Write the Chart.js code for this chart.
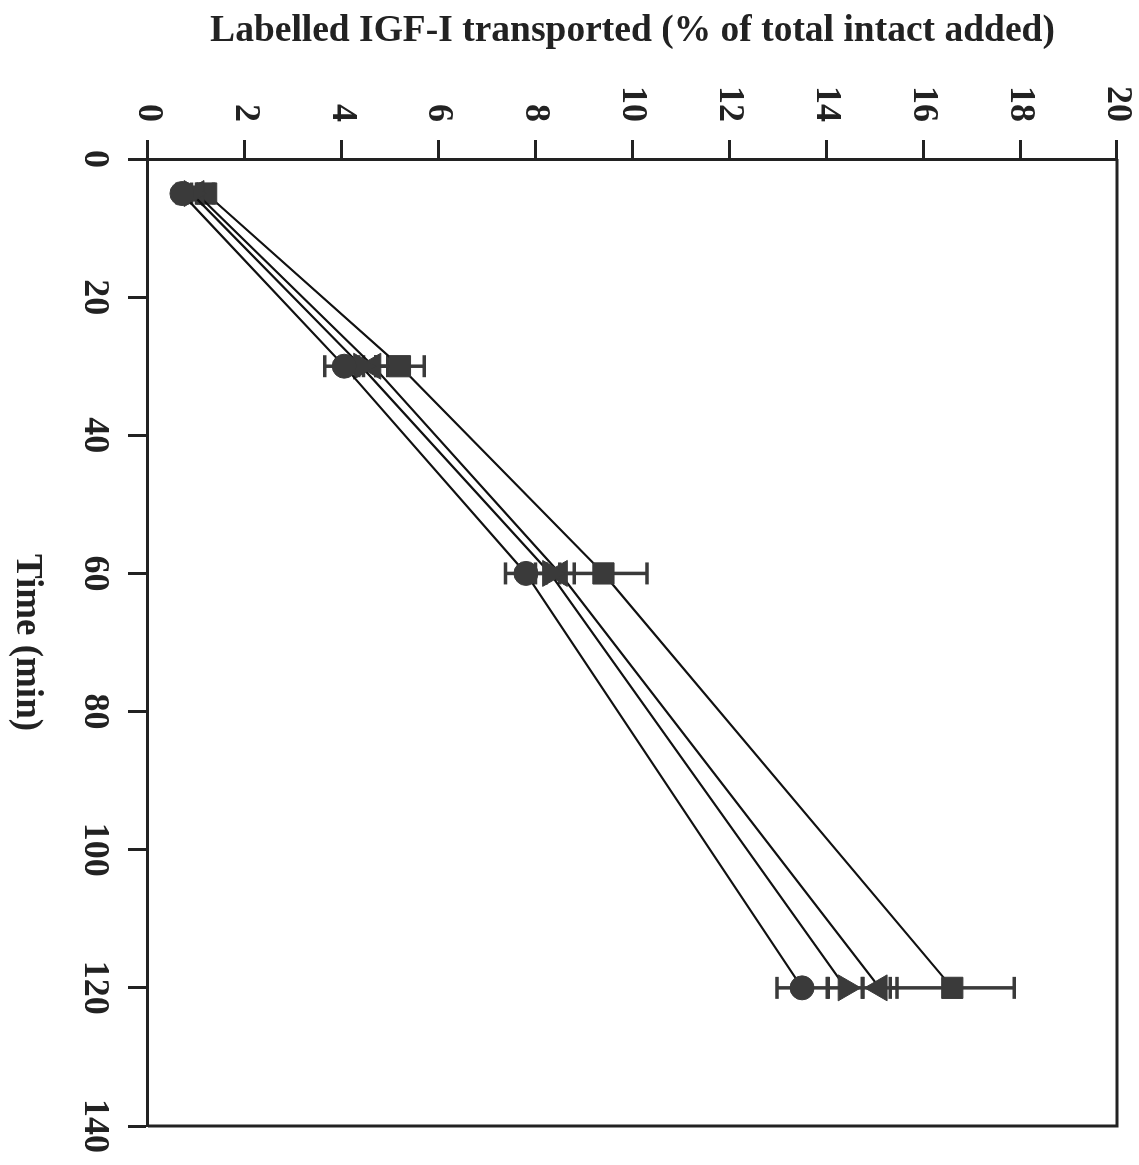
<!DOCTYPE html>
<html>
<head>
<meta charset="utf-8">
<script src="https://cdn.jsdelivr.net/npm/chart.js@4/dist/chart.umd.min.js"></script>
<style>
  html, body { margin: 0; padding: 0; background: #fff; overflow: hidden; }
  #wrap { position: relative; width: 1139px; height: 1165px; }
  /* figure is printed turned a quarter clockwise */
  #chart { position: absolute; left: 0; top: 0; transform-origin: 0 0; transform: translate(1139px, 0) rotate(90deg); }
</style>
</head>
<body>
<div id="wrap"><canvas id="chart" width="1165" height="1139"></canvas></div>
<script>
const times = [5, 30, 60, 120];

const circleVals = [0.7, 4.05, 7.8, 13.5];
const circleErr = [0.1, 0.4, 0.42, 0.52];
const triangleVals = [0.9, 4.4, 8.3, 14.4];
const triangleErr = [0.1, 0.3, 0.3, 0.36];
const invTriangleVals = [1.0, 4.65, 8.5, 15.1];
const invTriangleErr = [0.1, 0.3, 0.3, 0.36];
const squareVals = [1.2, 5.2, 9.4, 16.6];
const squareErr = [0.15, 0.5, 0.9, 1.28];

const timeTicks = [0, 20, 40, 60, 80, 100, 120, 140];
const pctTicks = [0, 2, 4, 6, 8, 10, 12, 14, 16, 18, 20];

const ink = '#222';
const marker = '#3a3a3a';
const serif = "'Liberation Serif', 'Times New Roman', serif";

function series(vals, errs, style, radius, rotation) {
  return {
    data: times.map((t, i) => ({ x: t, y: vals[i] })),
    errors: errs,
    showLine: true,
    borderColor: '#111',
    borderWidth: 2.2,
    pointStyle: style,
    pointRadius: radius,
    pointRotation: rotation || 0,
    pointBackgroundColor: marker,
    pointBorderColor: marker,
    pointBorderWidth: 1,
  };
}

const errorBars = {
  id: 'errorBars',
  beforeDatasetsDraw(chart) {
    const { ctx, scales: { x, y } } = chart;
    const cap = 11;
    ctx.save();
    ctx.strokeStyle = marker;
    ctx.lineWidth = 3.5;
    chart.data.datasets.forEach(ds => {
      ds.data.forEach((p, i) => {
        const px = x.getPixelForValue(p.x);
        const lo = y.getPixelForValue(p.y - ds.errors[i]);
        const hi = y.getPixelForValue(p.y + ds.errors[i]);
        ctx.beginPath();
        ctx.moveTo(px, lo); ctx.lineTo(px, hi);
        ctx.moveTo(px - cap, lo); ctx.lineTo(px + cap, lo);
        ctx.moveTo(px - cap, hi); ctx.lineTo(px + cap, hi);
        ctx.stroke();
      });
    });
    ctx.restore();
  }
};

const frame = {
  id: 'frame',
  afterDraw(chart) {
    const { ctx, chartArea: a } = chart;
    ctx.save();
    ctx.strokeStyle = ink;
    ctx.lineWidth = 3;
    ctx.beginPath();
    ctx.moveTo(a.left, a.top);
    ctx.lineTo(a.right, a.top);
    ctx.lineTo(a.right, a.bottom);
    ctx.stroke();
    ctx.restore();
  }
};

new Chart(document.getElementById('chart'), {
  type: 'scatter',
  data: {
    datasets: [
      series(circleVals, circleErr, 'circle', 12),
      series(triangleVals, triangleErr, 'triangle', 15),
      series(invTriangleVals, invTriangleErr, 'triangle', 15, 180),
      series(squareVals, squareErr, 'rect', 15),
    ]
  },
  options: {
    responsive: false,
    animation: false,
    devicePixelRatio: 1,
    layout: { autoPadding: false, padding: { left: 0, right: 38, top: 22, bottom: 0 } },
    plugins: { legend: { display: false }, tooltip: { enabled: false } },
    scales: {
      x: {
        type: 'linear',
        position: 'bottom',
        min: 0,
        max: 140,
        afterFit: s => { s.height = 148; },
        afterBuildTicks: s => { s.ticks = timeTicks.map(v => ({ value: v })); },
        ticks: { color: ink, maxRotation: 0, minRotation: 0, padding: 12, font: { family: serif, size: 36, weight: 'bold' } },
        grid: { drawOnChartArea: false, drawTicks: true, tickLength: 20, tickWidth: 3, tickColor: ink },
        border: { display: true, color: ink, width: 3 },
        title: { display: true, text: 'Time (min)', color: ink, padding: { top: 0, bottom: 4 }, font: { family: serif, size: 37, weight: 'bold' } },
      },
      y: {
        type: 'linear',
        position: 'left',
        min: 0,
        max: 20,
        afterFit: s => { s.width = 159; },
        afterBuildTicks: s => { s.ticks = pctTicks.map(v => ({ value: v })); },
        // small lineHeight keeps the end labels from pushing the plot edge in
        ticks: { color: ink, padding: 18, font: { family: serif, size: 36, weight: 'bold', lineHeight: 0.2 } },
        grid: { drawOnChartArea: false, drawTicks: true, tickLength: 19, tickWidth: 3, tickColor: ink },
        border: { display: true, color: ink, width: 3 },
        title: { display: true, text: 'Labelled IGF-I transported (% of total intact added)', color: ink, padding: { top: 9, bottom: 0 }, font: { family: serif, size: 37.5, weight: 'bold' } },
      }
    }
  },
  plugins: [errorBars, frame]
});
</script>
</body>
</html>
